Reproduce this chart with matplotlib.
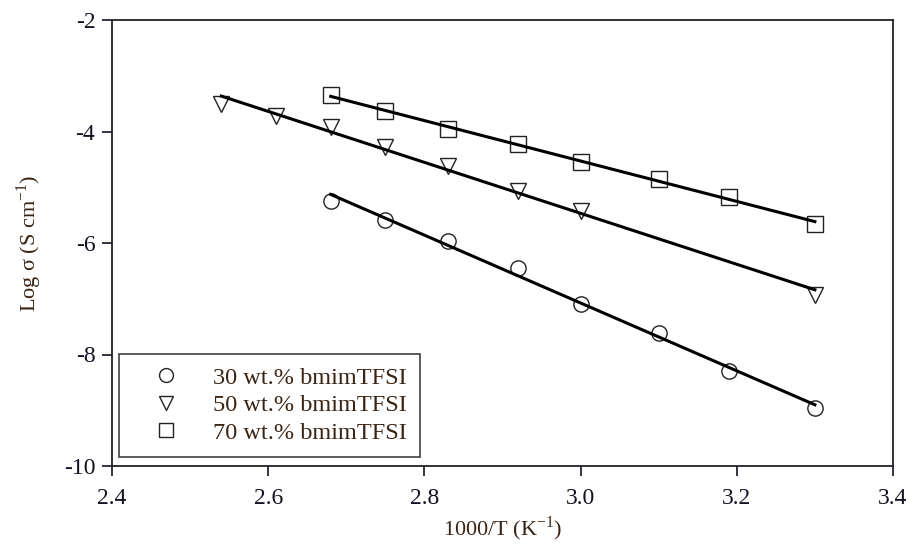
import numpy as np
import matplotlib
matplotlib.use('Agg')
import matplotlib.pyplot as plt

plt.rcParams['font.family'] = ['Liberation Serif', 'DejaVu Serif']
plt.rcParams['mathtext.fontset'] = 'custom'
plt.rcParams['mathtext.rm'] = 'Liberation Serif'
plt.rcParams['axes.unicode_minus'] = False

# 1000/T values
x30 = [2.68, 2.75, 2.83, 2.92, 3.00, 3.10, 3.19, 3.30]
y30 = [-5.25, -5.59, -5.96, -6.45, -7.09, -7.61, -8.30, -8.96]

x50 = [2.54, 2.61, 2.68, 2.75, 2.83, 2.92, 3.00, 3.30]
y50 = [-3.51, -3.72, -3.92, -4.28, -4.62, -5.07, -5.43, -6.93]

x70 = [2.68, 2.75, 2.83, 2.92, 3.00, 3.10, 3.19, 3.30]
y70 = [-3.35, -3.63, -3.96, -4.22, -4.55, -4.85, -5.18, -5.66]

labels = ['30 wt.% bmimTFSI', '50 wt.% bmimTFSI', '70 wt.% bmimTFSI']
markers = ['o', 'v', 's']
sizes = [11, 12, 11]

fig = plt.figure(figsize=(9.09, 5.44), dpi=100)
ax = fig.add_axes([112 / 909, 78 / 544, 781 / 909, 446 / 544])

series = [(x30, y30), (x50, y50), (x70, y70)]
for (xs, ys), m, s, lab in zip(series, markers, sizes, labels):
    xs = np.array(xs)
    ys = np.array(ys)
    ax.plot(xs, ys, linestyle='none', marker=m, markersize=s,
            markerfacecolor='none', markeredgecolor='#222222',
            markeredgewidth=1.0, label=lab, zorder=2)
    # linear regression line
    k, b = np.polyfit(xs, ys, 1)
    xf = np.array([xs.min(), xs.max()])
    ax.plot(xf, k * xf + b, color='black', linewidth=2.2, zorder=3)

ax.set_xlim(2.4, 3.4)
ax.set_ylim(-10, -2)
ax.set_xticks([2.4, 2.6, 2.8, 3.0, 3.2, 3.4])
ax.set_xticklabels(['2.4', '2.6', '2.8', '3.0', '3.2', '3.4'])
ax.set_yticks([-10, -8, -6, -4, -2])
ax.tick_params(direction='out', length=7, width=1.2, labelsize=17,
               colors='#111122', top=False, right=False, pad=5)
ax.tick_params(axis='x', pad=9)
for sp in ax.spines.values():
    sp.set_linewidth(1.3)
    sp.set_color('#222222')

ax.set_xlabel('1000/T (K$^{-1}$)', fontsize=16, color='#3a2414', labelpad=4)
ax.set_ylabel('Log σ (S cm$^{-1}$)', fontsize=16, color='#3a2414', labelpad=14)

leg = ax.legend(loc='lower left', bbox_to_anchor=(0.009, 0.02), borderaxespad=0,
                fontsize=17.5, frameon=True, fancybox=False, handlelength=2.8,
                handletextpad=0.5, borderpad=0.55, labelspacing=0.22)
leg.get_frame().set_edgecolor('#222222')
leg.get_frame().set_linewidth(1.3)
for h in leg.legend_handles:
    h.set_markersize(10)
for t in leg.get_texts():
    t.set_color('#3a2414')

fig.savefig('out.png', dpi=100)
